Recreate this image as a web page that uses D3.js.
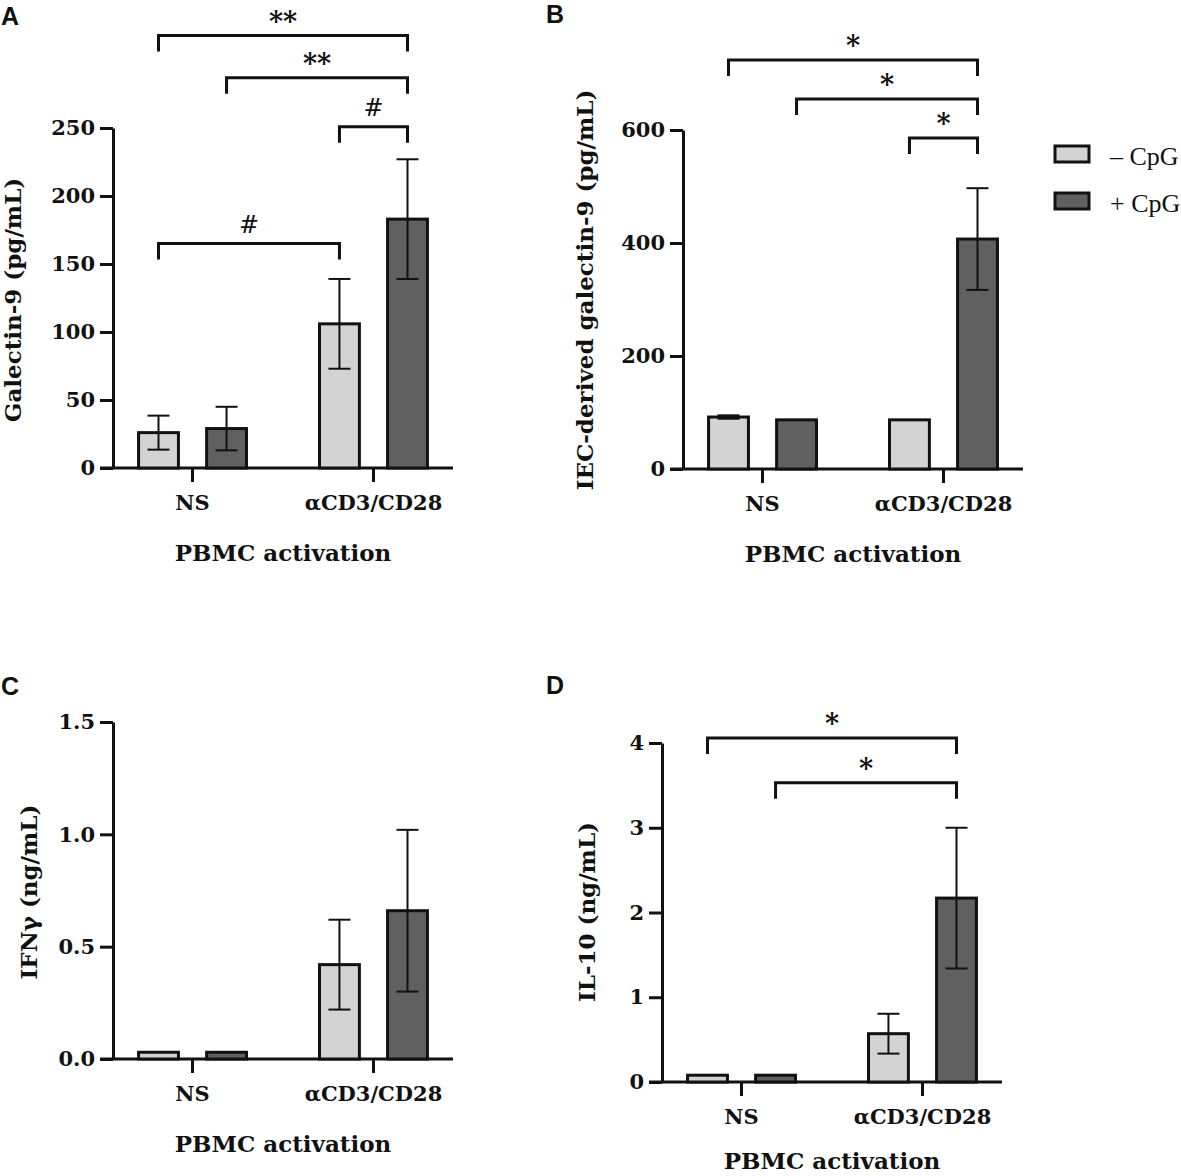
<!DOCTYPE html>
<html>
<head>
<meta charset="utf-8">
<script src="https://cdn.jsdelivr.net/npm/d3@7"></script>
<style>
body{margin:0;background:#fff;}
</style>
</head>
<body>
<svg id="fig" width="1181" height="1176"></svg>
<script>
"use strict";

var groups = ["NS", "\u03b1CD3/CD28"];
var series = ["minus", "plus"];
var legendLabels = ["\u2013 CpG", "+ CpG"];
var xTitle = "PBMC activation";

// A - galectin-9
var galMinus = [26, 106], galMinusErr = [12.5, 33];
var galPlus = [29, 183], galPlusErr = [16, 44];
var galTicks = [0, 50, 100, 150, 200, 250];
var galBrackets = [
	{from:[0,"minus"], to:[1,"plus"], at:318, label:"**"},
	{from:[0,"plus"], to:[1,"plus"], at:287, label:"**"},
	{from:[1,"minus"], to:[1,"plus"], at:251, label:"#"},
	{from:[0,"minus"], to:[1,"minus"], at:165, label:"#"}
];

// B - IEC-derived galectin-9
var iecMinus = [92, 87], iecMinusErr = [3, 0];
var iecPlus = [87, 407], iecPlusErr = [0, 90];
var iecTicks = [0, 200, 400, 600];
var iecBrackets = [
	{from:[0,"minus"], to:[1,"plus"], at:724, label:"*"},
	{from:[0,"plus"], to:[1,"plus"], at:655, label:"*"},
	{from:[1,"minus"], to:[1,"plus"], at:586, label:"*"}
];

// C - IFNg
var ifnMinus = [0.03, 0.42], ifnMinusErr = [0, 0.2];
var ifnPlus = [0.03, 0.66], ifnPlusErr = [0, 0.36];
var ifnTicks = [0, 0.5, 1.0, 1.5];
var ifnBrackets = [];

// D - IL-10
var il10Minus = [0.08, 0.57], il10MinusErr = [0, 0.235];
var il10Plus = [0.08, 2.17], il10PlusErr = [0, 0.83];
var il10Ticks = [0, 1, 2, 3, 4];
var il10Brackets = [
	{from:[0,"minus"], to:[1,"plus"], at:4.06, label:"*"},
	{from:[0,"plus"], to:[1,"plus"], at:3.53, label:"*"}
];

var fills = {minus:"#d3d3d3", plus:"#606060"};
var serif = "'DejaVu Serif', serif";

var svg = d3.select("#fig");

function panel(cfg){
	var W = 340;
	var g = svg.append("g").attr("transform","translate(" + cfg.left + ",0)");

	var y = d3.scaleLinear().domain([0, cfg.ticks[cfg.ticks.length-1]]).range([cfg.zero, cfg.top]);
	var x0 = d3.scaleBand().domain(groups).range([0, W]).paddingInner(0.387).paddingOuter(0.133);
	var x1 = d3.scaleBand().domain(series).range([0, x0.bandwidth()]).paddingInner(0.37);

	var rows = [];
	groups.forEach(function(gr, i){
		rows.push({g:gr, s:"minus", v:cfg.minus[i], e:cfg.minusErr[i]});
		rows.push({g:gr, s:"plus", v:cfg.plus[i], e:cfg.plusErr[i]});
	});
	function cx(gr, s){ return x0(gr) + x1(s) + x1.bandwidth()/2; }

	// y axis
	var ya = g.append("g")
		.call(d3.axisLeft(y).tickValues(cfg.ticks).tickSize(13).tickSizeOuter(0).tickPadding(5).tickFormat(cfg.fmt));
	ya.select(".domain").attr("stroke","#111").attr("stroke-width",3);
	ya.selectAll(".tick line").attr("stroke","#111").attr("stroke-width",3);
	ya.selectAll(".tick text").attr("fill","#111").style("font-family",serif).style("font-weight","bold").style("font-size","21px");

	// x axis
	g.append("line")
		.attr("x1",-13).attr("x2",W)
		.attr("y1",y(0)).attr("y2",y(0))
		.attr("stroke","#111").attr("stroke-width",3);
	var xa = g.append("g").attr("transform","translate(0," + y(0) + ")")
		.call(d3.axisBottom(x0).tickSize(14).tickSizeOuter(0).tickPadding(13));
	xa.select(".domain").remove();
	xa.selectAll(".tick line").attr("stroke","#111").attr("stroke-width",3);
	xa.selectAll(".tick text").attr("fill","#111").style("font-family",serif).style("font-weight","bold").style("font-size","21px");

	// bars
	g.selectAll("rect.bar")
		.data(rows)
		.enter()
		.append("rect")
		.attr("class","bar")
		.attr("x", function(d){return x0(d.g) + x1(d.s) + 1.5;})
		.attr("width", x1.bandwidth() - 3)
		.attr("y", function(d){return y(d.v);})
		.attr("height", function(d){return y(0) - y(d.v);})
		.attr("fill", function(d){return fills[d.s];})
		.attr("stroke","#111")
		.attr("stroke-width",3);

	// error bars
	var eb = g.selectAll("g.err")
		.data(rows.filter(function(d){return d.e > 0;}))
		.enter()
		.append("g")
		.attr("class","err")
		.attr("stroke","#111")
		.attr("stroke-width",2);
	eb.append("line")
		.attr("x1", function(d){return cx(d.g, d.s);})
		.attr("x2", function(d){return cx(d.g, d.s);})
		.attr("y1", function(d){return y(d.v + d.e);})
		.attr("y2", function(d){return y(d.v - d.e);});
	[1, -1].forEach(function(sign){
		eb.append("line")
			.attr("x1", function(d){return cx(d.g, d.s) - 11;})
			.attr("x2", function(d){return cx(d.g, d.s) + 11;})
			.attr("y1", function(d){return y(d.v + sign*d.e);})
			.attr("y2", function(d){return y(d.v + sign*d.e);});
	});

	// significance brackets
	var br = g.selectAll("g.bracket")
		.data(cfg.brackets)
		.enter()
		.append("g")
		.attr("class","bracket");
	br.append("path")
		.attr("d", function(d){
			var xa = cx(groups[d.from[0]], d.from[1]);
			var xb = cx(groups[d.to[0]], d.to[1]);
			var yy = y(d.at);
			return "M" + xa + "," + (yy + 16) + "V" + yy + "H" + xb + "V" + (yy + 16);
		})
		.attr("fill","none")
		.attr("stroke","#111")
		.attr("stroke-width",3);
	br.append("text")
		.attr("x", function(d){
			return (cx(groups[d.from[0]], d.from[1]) + cx(groups[d.to[0]], d.to[1])) / 2;
		})
		.attr("y", function(d){return y(d.at) + (d.label == "#" ? -11 : -5);})
		.attr("text-anchor","middle")
		.attr("fill","#111")
		.style("font-family",serif)
		.style("font-weight", function(d){return d.label == "#" ? "normal" : "bold";})
		.style("font-size", function(d){return d.label == "#" ? "24px" : "27px";})
		.text(function(d){return d.label;});

	// titles
	g.append("text")
		.attr("x", W/2)
		.attr("y", y(0) + cfg.titleGap)
		.attr("text-anchor","middle")
		.attr("fill","#111")
		.style("font-family",serif).style("font-weight","bold").style("font-size","23px")
		.text(xTitle);

	g.append("text")
		.attr("transform","translate(" + (cfg.labelX - cfg.left) + "," + cfg.labelY + ") rotate(-90)")
		.attr("text-anchor","middle")
		.attr("fill","#111")
		.style("font-family",serif).style("font-weight","bold").style("font-size","23px")
		.text(cfg.title);

	svg.append("text")
		.attr("x", cfg.letterX).attr("y", cfg.letterY)
		.attr("fill","#111")
		.style("font-family","'Liberation Sans', Arial, sans-serif").style("font-weight","bold").style("font-size","25px")
		.text(cfg.letter);
}

panel({letter:"A", letterX:1, letterY:25, left:113, zero:468, top:128, titleGap:93,
	minus:galMinus, minusErr:galMinusErr, plus:galPlus, plusErr:galPlusErr,
	ticks:galTicks, fmt:d3.format("d"), brackets:galBrackets,
	title:"Galectin-9 (pg/mL)", labelX:21, labelY:300});

panel({letter:"B", letterX:546, letterY:23, left:683, zero:469, top:130, titleGap:93,
	minus:iecMinus, minusErr:iecMinusErr, plus:iecPlus, plusErr:iecPlusErr,
	ticks:iecTicks, fmt:d3.format("d"), brackets:iecBrackets,
	title:"IEC-derived galectin-9 (pg/mL)", labelX:593, labelY:290});

panel({letter:"C", letterX:1, letterY:695, left:113, zero:1059, top:722, titleGap:93,
	minus:ifnMinus, minusErr:ifnMinusErr, plus:ifnPlus, plusErr:ifnPlusErr,
	ticks:ifnTicks, fmt:d3.format(".1f"), brackets:ifnBrackets,
	title:"IFN\u03b3 (ng/mL)", labelX:37, labelY:892});

panel({letter:"D", letterX:546, letterY:694, left:662, zero:1082, top:743, titleGap:87,
	minus:il10Minus, minusErr:il10MinusErr, plus:il10Plus, plusErr:il10PlusErr,
	ticks:il10Ticks, fmt:d3.format("d"), brackets:il10Brackets,
	title:"IL-10 (ng/mL)", labelX:595, labelY:912});

// legend
var leg = svg.append("g").attr("transform","translate(1055,146)");
var li = leg.selectAll("g").data(series).enter().append("g")
	.attr("transform", function(d, i){return "translate(0," + (i*47) + ")";});
li.append("rect")
	.attr("width",34).attr("height",16)
	.attr("fill", function(d){return fills[d];})
	.attr("stroke","#111").attr("stroke-width",3);
li.append("text")
	.attr("x",55).attr("y",19)
	.attr("fill","#111")
	.style("font-family","'Liberation Serif', serif").style("font-size","26px")
	.text(function(d, i){return legendLabels[i];});
</script>
</body>
</html>
